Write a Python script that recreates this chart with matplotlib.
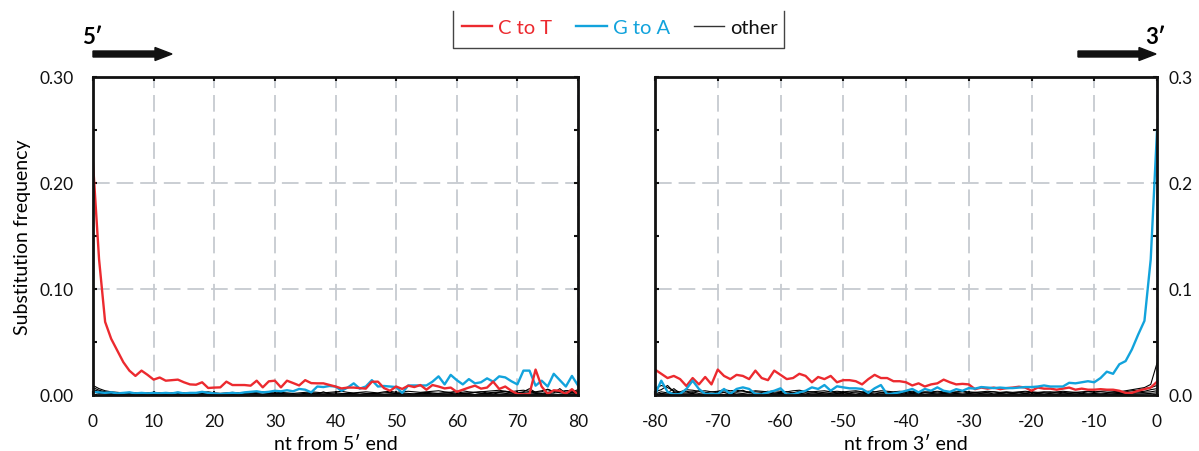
import matplotlib
matplotlib.use("Agg")
import matplotlib.pyplot as plt
import numpy as np
from matplotlib.patches import FancyArrow
from matplotlib.lines import Line2D
from matplotlib.transforms import IdentityTransform

plt.rcParams['font.family'] = ['Lato', 'DejaVu Sans']
plt.rcParams['lines.scale_dashes'] = False
plt.rcParams['axes.unicode_minus'] = False

# values in units of 1e-4 (substitution frequency)
pos5 = np.arange(0, 81)
pos3 = np.arange(-80, 1)

ct_5 = [2190, 1280, 690, 530, 420, 310, 230, 180, 230, 190,
        145, 165, 135, 140, 145, 120, 100, 97, 120, 66,
        70, 72, 126, 94, 94, 94, 88, 135, 72, 129,
        135, 72, 135, 113, 90, 140, 112, 110, 110, 95,
        80, 62, 70, 70, 65, 60, 125, 126, 65, 40,
        80, 57, 88, 75, 94, 50, 94, 80, 62, 70,
        30, 50, 70, 88, 60, 70, 126, 57, 80, 40,
        10, 5, 10, 240, 80, 10, 45, 40, 10, 55,
        5]
ga_5 = [30, 25, 20, 25, 15, 20, 25, 15, 20, 15,
        20, 15, 20, 15, 25, 15, 20, 20, 30, 20,
        15, 10, 15, 20, 15, 25, 30, 35, 25, 30,
        40, 35, 45, 35, 57, 50, 25, 80, 75, 85,
        80, 40, 70, 110, 60, 80, 140, 80, 85, 80,
        75, 20, 90, 90, 90, 90, 126, 176, 100, 190,
        140, 100, 150, 110, 120, 157, 126, 176, 166, 130,
        100, 230, 230, 88, 135, 80, 200, 140, 80, 180,
        90]
other_5 = [
    [90, 60, 40, 30, 25, 20, 25, 20, 15, 20,
     25, 20, 15, 20, 25, 20, 15, 20, 25, 30,
     20, 15, 20, 25, 20, 15, 20, 25, 30, 25,
     20, 25, 20, 15, 20, 25, 30, 25, 20, 25,
     30, 35, 25, 20, 25, 30, 25, 20, 30, 35,
     25, 30, 35, 30, 25, 30, 35, 40, 30, 25,
     35, 40, 30, 25, 30, 35, 40, 45, 35, 30,
     40, 45, 35, 30, 40, 50, 35, 30, 40, 45,
     30],
    [70, 45, 30, 20, 15, 10, 15, 10, 5, 10,
     15, 10, 5, 10, 15, 10, 5, 10, 15, 10,
     10, 5, 10, 15, 10, 5, 10, 15, 20, 15,
     10, 15, 10, 5, 10, 15, 20, 15, 10, 15,
     20, 15, 10, 15, 20, 15, 10, 15, 20, 25,
     15, 20, 15, 10, 20, 25, 20, 15, 20, 25,
     30, 20, 15, 25, 30, 20, 25, 30, 35, 25,
     20, 30, 60, 25, 30, 55, 30, 25, 40, 30,
     50],
    [50, 35, 25, 15, 10, 15, 10, 5, 10, 5,
     10, 5, 10, 5, 10, 15, 10, 5, 10, 5,
     5, 10, 5, 10, 15, 10, 5, 10, 5, 10,
     15, 10, 5, 10, 5, 10, 15, 10, 30, 10,
     5, 10, 15, 10, 5, 10, 15, 10, 5, 10,
     15, 10, 5, 10, 15, 20, 10, 15, 20, 15,
     10, 15, 20, 25, 15, 10, 20, 25, 30, 20,
     15, 25, 30, 20, 15, 25, 35, 20, 15, 25,
     20],
    [40, 25, 15, 10, 5, 5, 10, 5, 5, 5,
     5, 10, 5, 5, 5, 10, 5, 5, 10, 5,
     5, 5, 10, 5, 5, 5, 10, 5, 5, 10,
     5, 5, 10, 5, 5, 5, 10, 5, 5, 5,
     10, 5, 5, 10, 5, 5, 10, 5, 5, 10,
     5, 10, 5, 5, 10, 15, 10, 5, 10, 5,
     10, 15, 10, 5, 10, 15, 10, 20, 15, 10,
     15, 10, 20, 15, 10, 15, 20, 60, 15, 10,
     15],
    [30, 15, 10, 5, 2, 5, 3, 5, 2, 4,
     2, 5, 3, 2, 4, 5, 2, 3, 5, 2,
     3, 4, 2, 5, 3, 2, 4, 3, 5, 2,
     4, 2, 3, 5, 2, 4, 3, 2, 5, 3,
     2, 4, 5, 3, 2, 4, 6, 3, 2, 5,
     4, 3, 6, 2, 5, 4, 3, 7, 4, 2,
     5, 6, 3, 4, 8, 5, 3, 6, 4, 7,
     5, 3, 8, 6, 4, 5, 9, 4, 6, 8,
     5],
]

ct_3 = [240, 200, 160, 180, 150, 85, 160, 100, 170, 100,
        240, 180, 150, 190, 180, 150, 230, 160, 140, 230,
        190, 150, 160, 200, 180, 120, 170, 150, 180, 120,
        140, 140, 130, 100, 150, 190, 160, 160, 130, 130,
        120, 90, 110, 80, 100, 110, 145, 120, 100, 105,
        100, 55, 70, 60, 70, 55, 65, 70, 78, 70,
        40, 70, 60, 60, 50, 60, 70, 50, 60, 50,
        50, 55, 50, 50, 40, 20, 20, 40, 55, 70,
        125]
ga_3 = [5, 135, 30, 5, 10, 57, 135, 57, 10, 10,
        10, 57, 10, 57, 72, 57, 10, 5, 25, 40,
        63, 5, 5, 25, 40, 72, 57, 94, 40, 82,
        72, 63, 63, 57, 20, 63, 94, 5, 15, 25,
        40, 57, 25, 57, 40, 72, 40, 30, 55, 40,
        65, 60, 75, 70, 65, 70, 65, 65, 70, 75,
        75, 80, 90, 80, 80, 80, 115, 110, 120, 130,
        120, 160, 220, 200, 290, 320, 430, 570, 700, 1280,
        2490]
other_3 = [
    [60, 90, 70, 40, 30, 50, 45, 35, 40, 30,
     35, 50, 40, 45, 35, 30, 40, 35, 30, 40,
     35, 30, 40, 45, 35, 30, 35, 40, 30, 35,
     30, 35, 40, 30, 35, 30, 40, 35, 30, 35,
     30, 35, 30, 25, 30, 35, 30, 25, 30, 35,
     30, 25, 30, 35, 30, 25, 30, 25, 30, 35,
     30, 25, 30, 25, 30, 35, 30, 25, 30, 35,
     30, 35, 40, 35, 30, 40, 50, 60, 70, 100,
     300],
    [30, 50, 90, 30, 20, 35, 25, 40, 20, 30,
     20, 40, 25, 30, 45, 20, 30, 25, 35, 20,
     25, 30, 20, 35, 25, 30, 20, 25, 30, 20,
     25, 20, 30, 25, 20, 30, 25, 20, 25, 30,
     20, 25, 20, 30, 25, 20, 25, 20, 25, 30,
     20, 25, 20, 25, 30, 20, 25, 20, 25, 20,
     25, 20, 25, 30, 20, 25, 20, 25, 20, 30,
     25, 30, 25, 20, 25, 30, 40, 45, 60, 70,
     90],
    [10, 30, 20, 60, 15, 20, 30, 15, 25, 10,
     15, 25, 10, 20, 15, 25, 10, 15, 20, 10,
     15, 10, 20, 15, 10, 20, 15, 10, 15, 20,
     10, 15, 20, 10, 15, 10, 20, 15, 10, 15,
     10, 15, 10, 20, 15, 10, 15, 10, 15, 10,
     15, 10, 15, 20, 10, 15, 10, 15, 10, 15,
     10, 15, 10, 15, 20, 10, 15, 10, 15, 10,
     15, 10, 15, 20, 15, 20, 25, 30, 35, 50,
     60],
    [5, 15, 10, 25, 5, 10, 15, 5, 10, 5,
     10, 5, 15, 5, 10, 5, 10, 15, 5, 10,
     5, 10, 5, 15, 5, 10, 5, 10, 5, 15,
     5, 10, 5, 10, 15, 5, 10, 5, 10, 5,
     10, 5, 10, 5, 10, 5, 15, 5, 10, 5,
     5, 10, 5, 10, 5, 10, 5, 10, 5, 10,
     5, 10, 5, 10, 5, 10, 5, 10, 5, 10,
     5, 10, 5, 10, 15, 10, 15, 20, 25, 30,
     40],
    [2, 5, 3, 8, 2, 4, 6, 2, 5, 3,
     4, 2, 5, 3, 2, 6, 3, 4, 2, 5,
     3, 2, 4, 5, 2, 3, 4, 2, 5, 3,
     2, 4, 3, 5, 2, 4, 3, 2, 5, 3,
     4, 2, 3, 5, 2, 4, 3, 2, 4, 5,
     2, 3, 4, 2, 5, 3, 2, 4, 3, 2,
     4, 3, 2, 5, 3, 2, 4, 3, 5, 2,
     3, 4, 2, 5, 4, 6, 8, 10, 12, 15,
     20],
]

scale = 1e-4
red = '#ec2a2f'
blue = '#12a3dc'
grid_col = '#c6cad0'

fig = plt.figure(figsize=(11.99, 4.52), dpi=100)
ax1 = fig.add_axes([93 / 1199, 1 - 396 / 452, 485 / 1199, 318 / 452])
ax2 = fig.add_axes([655 / 1199, 1 - 396 / 452, 502 / 1199, 318 / 452])


def style(ax, xlim, xticks):
    ax.set_xlim(*xlim)
    ax.set_ylim(0, 0.3)
    ax.set_xticks(xticks)
    ax.set_yticks([0, 0.1, 0.2, 0.3])
    ax.set_yticks([0.05, 0.15, 0.25], minor=True)
    ax.grid(True, which='major', color=grid_col, lw=1.3, linestyle=(0, (12, 5)))
    ax.set_axisbelow(True)
    for s in ax.spines.values():
        s.set_linewidth(2)
        s.set_color('#111111')
    ax.tick_params(which='both', direction='in', top=True, right=True,
                   length=3, width=1.5, labelsize=12.5, colors='#111111')
    ax.tick_params(axis='x', pad=13)


for ys in other_5:
    ax1.plot(pos5, np.array(ys) * scale, color='black', lw=0.8)
ax1.plot(pos5, np.array(ga_5) * scale, color=blue, lw=1.7)
ax1.plot(pos5, np.array(ct_5) * scale, color=red, lw=1.7)
style(ax1, (0, 80), np.arange(0, 81, 10))
ax1.set_yticklabels(['0.00', '0.10', '0.20', '0.30'])
ax1.tick_params(axis='y', pad=14)
ax1.set_xlabel('nt from 5\u2032 end', fontsize=14, labelpad=4)
ax1.set_ylabel('Substitution frequency', fontsize=14, labelpad=6)

for ys in other_3:
    ax2.plot(pos3, np.array(ys) * scale, color='black', lw=0.8)
ax2.plot(pos3, np.array(ct_3) * scale, color=red, lw=1.7)
ax2.plot(pos3, np.array(ga_3) * scale, color=blue, lw=1.7)
style(ax2, (-80, 0), np.arange(-80, 1, 10))
ax2.yaxis.tick_right()
ax2.tick_params(which='both', left=True, right=True, labelleft=False, labelright=True)
ax2.set_yticklabels(['0.0', '0.1', '0.2', '0.3'])
ax2.tick_params(axis='y', pad=8)
ax2.set_xlabel('nt from 3\u2032 end', fontsize=14, labelpad=4)

# direction arrows
ident = IdentityTransform()
fig.patches.append(FancyArrow(93, 452 - 55, 79, 0, width=6, head_width=13,
                              head_length=17, length_includes_head=True,
                              color='#111111', transform=ident))
fig.patches.append(FancyArrow(1078, 452 - 55, 78, 0, width=6, head_width=13,
                              head_length=17, length_includes_head=True,
                              color='#111111', transform=ident))
fig.text(82 / 1199, 1 - 38 / 452, '5\u2032', fontsize=16, fontweight='bold', va='center', ha='left')
fig.text(1145 / 1199, 1 - 38 / 452, '3\u2032', fontsize=16, fontweight='bold', va='center', ha='left')

# legend, frame open at the top
handles = [Line2D([], [], color=red, lw=1.7),
           Line2D([], [], color=blue, lw=1.7),
           Line2D([], [], color='#333333', lw=1.0)]
leg = fig.legend(handles, ['C to T', 'G to A', 'other'], loc='center',
                 bbox_to_anchor=(620 / 1199, 1 - 28 / 452), ncol=3, frameon=False,
                 fontsize=14.5, handlelength=1.5, handletextpad=0.3, columnspacing=1.2)
for t, c in zip(leg.get_texts(), [red, blue, '#111111']):
    t.set_color(c)
bx = [453 / 1199, 453 / 1199, 784 / 1199, 784 / 1199]
by = [1 - 12 / 452, 1 - 49 / 452, 1 - 49 / 452, 1 - 12 / 452]
fig.add_artist(Line2D(bx, by, color='#444444', lw=1.0, transform=fig.transFigure))

fig.savefig('out.png', dpi=100)
